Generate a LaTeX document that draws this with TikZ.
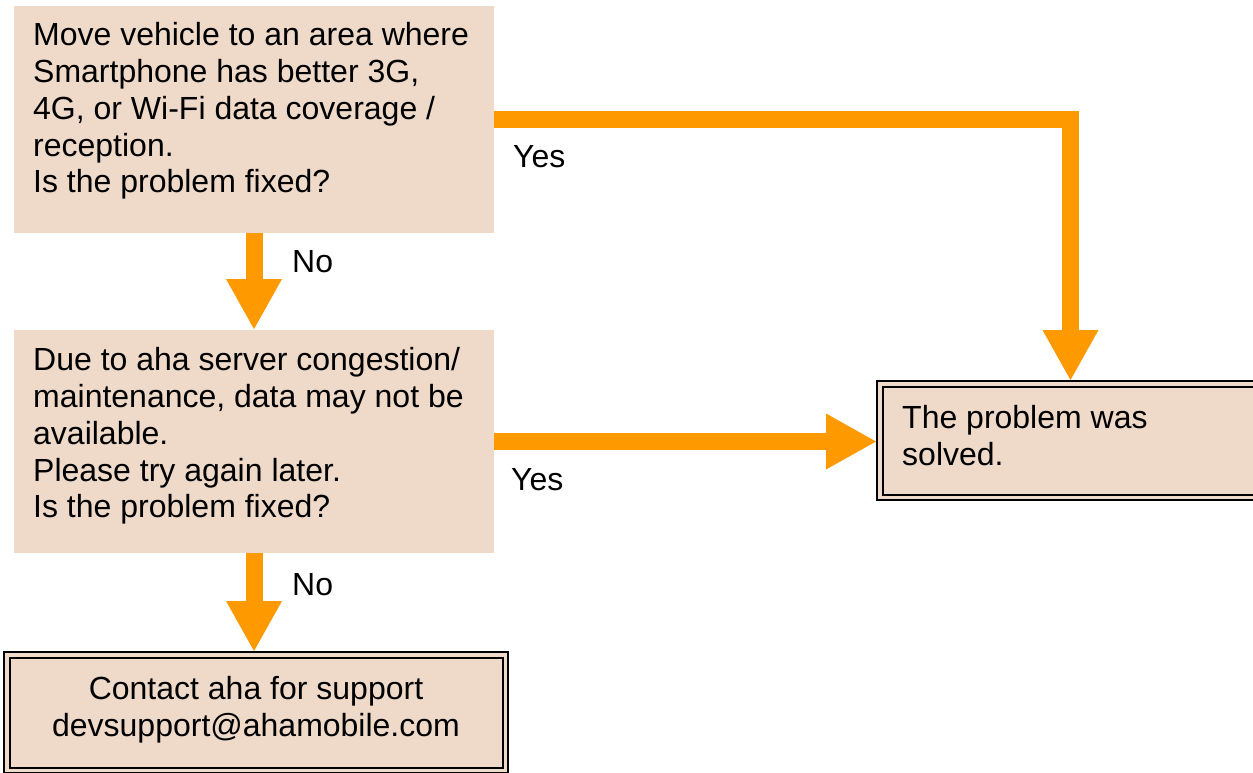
\documentclass[tikz,border=0pt]{standalone}
\usepackage{fontspec}
\setmainfont{Liberation Sans}
\usetikzlibrary{arrows.meta}
\definecolor{boxtan}{HTML}{EFD9C8}
\definecolor{flow}{HTML}{FF9900}
\begin{document}
\begin{tikzpicture}[x=1pt,y=-1pt,
  qbox/.style={rectangle, fill=boxtan, draw=none, inner sep=0pt, outer sep=0pt},
  endbox/.style={rectangle, fill=boxtan, draw=black, line width=2pt, inner sep=0pt, outer sep=0pt},
  innerline/.style={draw=black, line width=2pt},
  txt/.style={inner sep=0pt, align=left, font=\fontsize{32}{36.75}\selectfont},
  lbl/.style={inner sep=0pt, anchor=base west, font=\fontsize{32}{36.75}\selectfont},
  flowarrow/.style={draw=flow, line width=17pt, -{Triangle[width=52pt,length=51pt]}}]
\useasboundingbox (0,0) rectangle (1253,772);
% boxes
\node[qbox, minimum width=480pt, minimum height=227pt] (b1) at (254,119.5) {};
\node[qbox, minimum width=480pt, minimum height=223pt] (b2) at (254,441.5) {};
\node[endbox, minimum width=387pt, minimum height=119pt] (b3) at (1070.5,440.5) {};
\draw[innerline] ([shift={(5.5,5.5)}]b3.north west) rectangle ([shift={(-5.5,-5.5)}]b3.south east);
\node[endbox, minimum width=504pt, minimum height=121pt] (b4) at (256,712.5) {};
\draw[innerline] ([shift={(5.5,5.5)}]b4.north west) rectangle ([shift={(-5.5,-5.5)}]b4.south east);
% texts
\node[txt, anchor=north west] (t1) at (33,22.5) {Move vehicle to an area where\\Smartphone has better 3G,\\4G, or Wi-Fi data coverage /\\reception.\\Is the problem fixed?};
\node[txt, anchor=north west] (t2) at (33,347.5) {Due to aha server congestion/\\maintenance, data may not be\\available.\\Please try again later.\\Is the problem fixed?};
\node[txt, anchor=north west] (t3) at (902,405.5) {The problem was\\solved.};
\node[txt, align=center, anchor=north] (t4) at (256,676.5) {Contact aha for support\\devsupport@ahamobile.com};
% connectors
\draw[flowarrow] (b1.east) -| (b3.north);
\draw[flowarrow] (b1.south) -- (b2.north);
\draw[flowarrow] (b2.south) -- (b2.south |- b4.north);
\draw[flowarrow] (b2.east) -- (b2.east -| b3.west);
% labels
\node[lbl] (y1) at (513,167) {Yes};
\node[lbl] (n1) at (292,272) {No};
\node[lbl] (y2) at (511,490) {Yes};
\node[lbl] (n2) at (292,595) {No};
\end{tikzpicture}
\end{document}
